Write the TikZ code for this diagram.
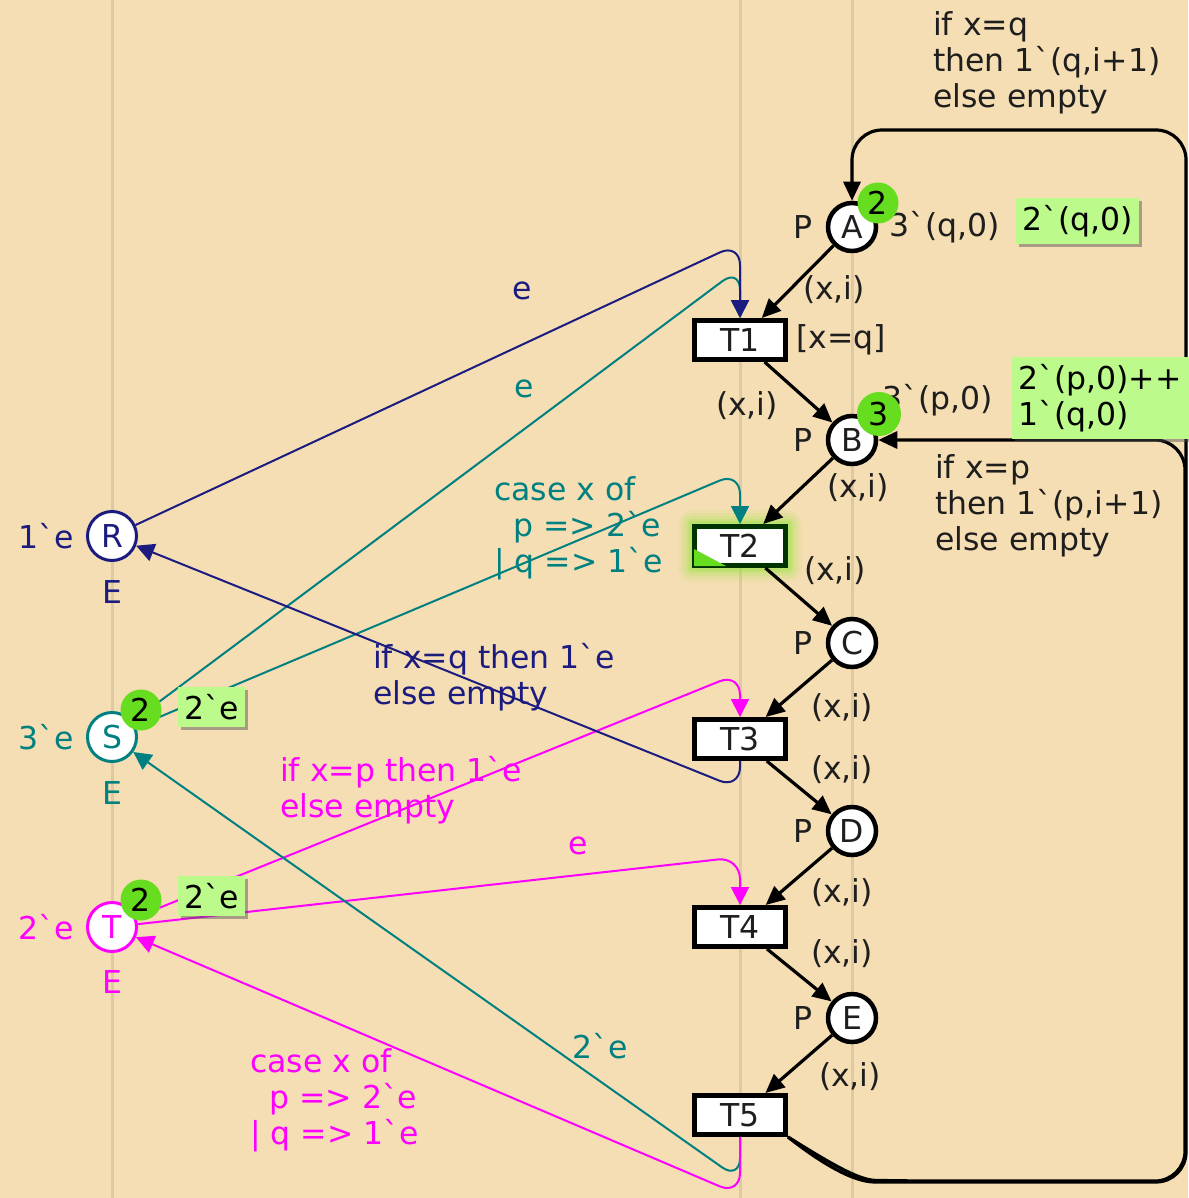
\documentclass[tikz,border=0pt]{standalone}
\usepackage{fontspec}
\setmainfont{DejaVu Sans}
\usetikzlibrary{arrows.meta,shadows}

\definecolor{bg}{RGB}{245,222,179}
\definecolor{guide}{RGB}{222,202,162}
\definecolor{cpnnavy}{RGB}{28,28,128}
\definecolor{cpnteal}{RGB}{0,128,128}
\definecolor{cpnmag}{RGB}{255,0,255}
\definecolor{tokgreen}{RGB}{102,221,30}
\definecolor{boxgreen}{RGB}{188,250,140}
\definecolor{glow}{RGB}{150,230,60}
\definecolor{ink}{RGB}{30,30,30}

% multiset back-quote
\newcommand\bq{ˋ}

\tikzset{
  every node/.style={font=\fontsize{31.5}{36}\selectfont, inner sep=0pt},
  place/.style={circle, draw=black, line width=4.5pt, fill=white, minimum size=48pt, text=ink},
  cplace/.style={circle, line width=3pt, fill=white, minimum size=49pt},
  trans/.style={rectangle, draw=black, line width=5pt, fill=white, minimum width=91pt, minimum height=39pt, text=ink},
  token/.style={circle, fill=tokgreen, minimum size=41pt, text=black},
  markbox/.style={fill=boxgreen, inner xsep=6pt, inner ysep=7pt, text=black,
    drop shadow={shadow xshift=3pt, shadow yshift=-3pt, opacity=0.45, fill=black!70}},
  barc/.style={line width=3.2pt, draw=black, -{Triangle[length=19pt,width=17pt]}, rounded corners=30pt},
  carc/.style={line width=2pt, -{Triangle[length=18pt,width=18pt]}, rounded corners=22pt},
  lbl/.style={text=ink},
  mlbl/.style={align=left, anchor=west},
}

\begin{document}
\begin{tikzpicture}[x=1pt, y=-1pt]
  \useasboundingbox (0,0) rectangle (1188,1198);
  \fill[bg] (0,0) rectangle (1188,1198);
  % guide lines
  \foreach \gx in {112,740,852}
    \draw[guide, line width=3pt] (\gx,0) -- (\gx,1198);

  % soft glow of the enabled transition
  \foreach \g/\o in {14/0.08,11/0.10,8/0.14,5/0.2,3/0.3}
    \fill[glow, opacity=\o, rounded corners=\g pt] (692-\g,524-\g) rectangle (788+\g,568+\g);

  % places of the process cycle
  \node[place] (A) at (852,227) {A};
  \node[place] (B) at (852,440) {B};
  \node[place] (C) at (852,643) {C};
  \node[place] (D) at (852,831) {D};
  \node[place] (E) at (852,1018) {E};

  % resource places
  \node[cplace, draw=cpnnavy, text=cpnnavy] (R) at (112,536) {R};
  \node[cplace, draw=cpnteal, text=cpnteal] (S) at (112,737) {S};
  \node[cplace, draw=cpnmag, text=cpnmag] (T) at (112,927) {T};

  % transitions
  \node[trans] (T1) at (740,340) {T1};
  \node[trans, draw=black!80!green] (T2) at (740,546) {T2};
  \fill[tokgreen] (694,549) -- (726,566) -- (694,566) -- cycle;
  \node[trans] (T3) at (740,739) {T3};
  \node[trans] (T4) at (740,927) {T4};
  \node[trans] (T5) at (740,1115) {T5};

  % coloured arcs
  \draw[carc, cpnteal] (S) -- (740,268) -- (T1.north);
  \draw[carc, cpnnavy] (R) -- (740,243) -- (T1.north);
  \draw[carc, cpnteal] (S) -- (740,472) -- (T2.north);
  \draw[carc, cpnmag] (T) -- (740,673) -- (T3.north);
  \draw[carc, cpnmag] (T) -- (740,857) -- (T4.north);
  \draw[carc, cpnnavy] (T3.south) -- (740,789) -- (R);
  \draw[carc, cpnteal] (T5.south) -- (740,1180) -- (S);
  \draw[carc, cpnmag] (T5.south) -- (740,1195) -- (T);

  % black arcs
  \draw[barc] (A) -- (T1);
  \draw[barc] (T1) -- (B);
  \draw[barc] (B) -- (T2);
  \draw[barc] (T2) -- (C);
  \draw[barc] (C) -- (T3);
  \draw[barc] (T3) -- (D);
  \draw[barc] (D) -- (T4);
  \draw[barc] (T4) -- (E);
  \draw[barc] (E) -- (T5);
  \draw[barc] (T5.south east) .. controls (825,1166) and (855,1182) .. (905,1182)
    -- (1186,1182) -- (1186,130) -- (852,130) -- (A);
  \draw[barc] (T5.south east) .. controls (828,1162) and (858,1180) .. (905,1181)
    -- (1185,1181) -- (1185,440) -- (B);

  % place annotations
  \foreach \p in {A,B,C,D,E}
    \node[lbl] (P\p) at ([xshift=-49pt]\p.center) {P};
  \node[lbl] (imA) at (945,227) {3\bq(q,0)};
  \node[lbl] (imB) at (938,400) {3\bq(p,0)};

  \node[text=cpnnavy] (imR) at (46,536) {1\bq e};
  \node[text=cpnnavy] (tyR) at (112,592) {E};
  \node[text=cpnteal] (imS) at (46,737) {3\bq e};
  \node[text=cpnteal] (tyS) at (112,793) {E};
  \node[text=cpnmag] (imT) at (46,927) {2\bq e};
  \node[text=cpnmag] (tyT) at (112,982) {E};

  % arc inscriptions
  \node[lbl] (x1) at (834,290) {(x,i)};
  \node[lbl] (x2) at (747,406) {(x,i)};
  \node[lbl] (x3) at (858,488) {(x,i)};
  \node[lbl] (x4) at (835,571) {(x,i)};
  \node[lbl] (x5) at (842,708) {(x,i)};
  \node[lbl] (x6) at (842,770) {(x,i)};
  \node[lbl] (x7) at (842,893) {(x,i)};
  \node[lbl] (x8) at (842,954) {(x,i)};
  \node[lbl] (x9) at (850,1077) {(x,i)};
  \node[lbl, anchor=west] (g1) at (796,340) {[x=q]};

  \node[lbl, mlbl] (ifA) at (933,63) {if x=q\\then 1\bq(q,i+1)\\else empty};
  \node[lbl, mlbl] (ifB) at (935,506) {if x=p\\then 1\bq(p,i+1)\\else empty};

  \node[text=cpnnavy] (eR) at (522,291) {e};
  \node[text=cpnteal] (eS) at (524,389) {e};
  \node[text=cpnteal, mlbl] (caseS) at (494,528) {case x of\\\hspace*{19pt}p => 2\bq e\\| q => 1\bq e};
  \node[text=cpnnavy, mlbl] (ifR) at (373,677) {if x=q then 1\bq e\\else empty};
  \node[text=cpnmag, mlbl] (ifT) at (280,790) {if x=p then 1\bq e\\else empty};
  \node[text=cpnmag] (eT) at (578,846) {e};
  \node[text=cpnteal] (twoS) at (600,1046) {2\bq e};
  \node[text=cpnmag, mlbl] (caseT) at (250,1100) {case x of\\\hspace*{19pt}p => 2\bq e\\| q => 1\bq e};

  % current markings
  \node[token] (kA) at (878,203) {2};
  \node[token, minimum size=44pt] (kB) at (879,414) {3};
  \node[token] (kS) at (141,710) {2};
  \node[token] (kT) at (141,900) {2};
  \node[markbox, anchor=west] (mA) at (1016,221) {2\bq(q,0)};
  \node[markbox, align=left, anchor=north west, text width=168pt] (mB) at (1012,357) {2\bq(p,0)++\\1\bq(q,0)};
  \node[markbox, anchor=west] (mS) at (178,707) {2\bq e};
  \node[markbox, anchor=west] (mT) at (178,896) {2\bq e};
\end{tikzpicture}
\end{document}
